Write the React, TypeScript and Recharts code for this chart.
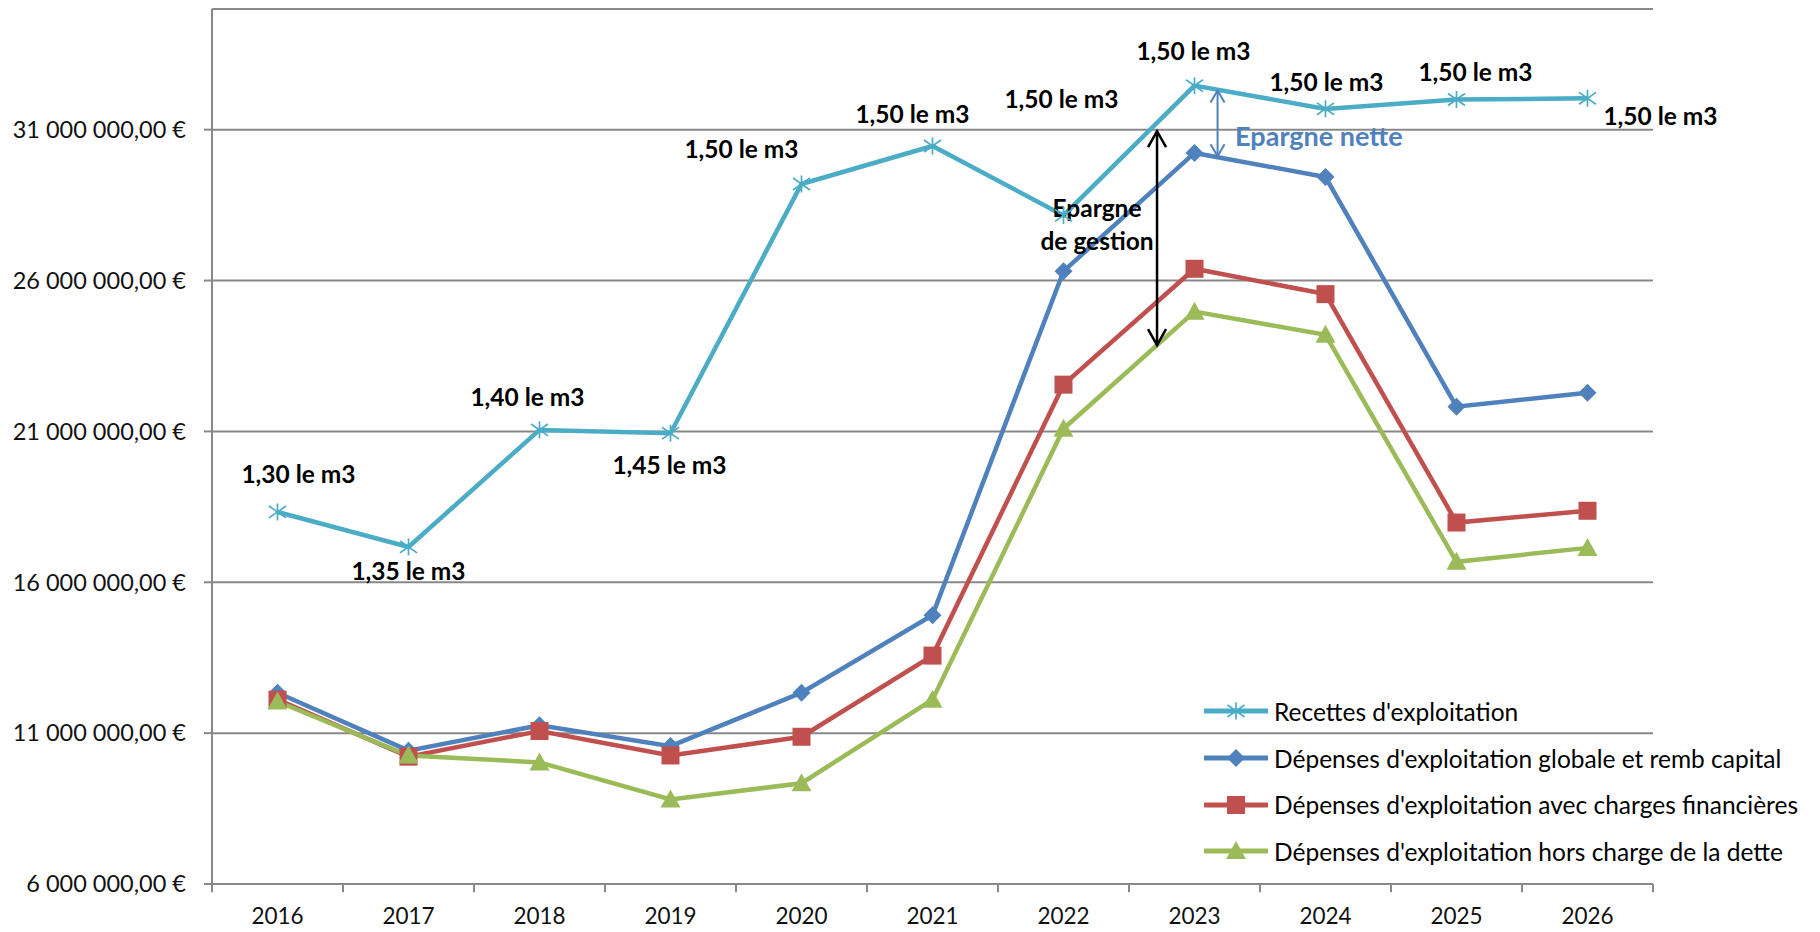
import React from 'react';
import {
  LineChart,
  Line,
  XAxis,
  YAxis,
  CartesianGrid,
  Legend,
  ReferenceLine,
  ReferenceDot,
  LabelList,
} from 'recharts';

const years = ['2016', '2017', '2018', '2019', '2020', '2021', '2022', '2023', '2024', '2025', '2026'];
const recettes = [18.33e6, 17.17e6, 21.05e6, 20.94e6, 29.2e6, 30.46e6, 28.16e6, 32.46e6, 31.69e6, 32.0e6, 32.04e6];
const depGlobale = [12.34e6, 10.42e6, 11.26e6, 10.57e6, 12.34e6, 14.91e6, 26.31e6, 30.23e6, 29.43e6, 21.82e6, 22.28e6];
const depCharges = [12.11e6, 10.22e6, 11.07e6, 10.26e6, 10.88e6, 13.57e6, 22.55e6, 26.39e6, 25.55e6, 17.98e6, 18.37e6];
const depHorsDette = [12.05e6, 10.26e6, 10.03e6, 8.8e6, 9.34e6, 12.11e6, 21.09e6, 24.97e6, 24.2e6, 16.68e6, 17.14e6];
const priceLabels = [
  '1,30 le m3', '1,35 le m3', '1,40 le m3', '1,45 le m3', '1,50 le m3', '1,50 le m3',
  '1,50 le m3', '1,50 le m3', '1,50 le m3', '1,50 le m3', '1,50 le m3',
];
const yTicks = [6e6, 11e6, 16e6, 21e6, 26e6, 31e6];
const seriesNames = [
  "Recettes d'exploitation",
  "Dépenses d'exploitation globale et remb capital",
  "Dépenses d'exploitation avec charges financières",
  "Dépenses d'exploitation hors charge de la dette",
];

// label placement (pixel offsets from each point), style only
const labelOffsets: [number, number][] = [
  [21, -38], [0, 24], [-12, -33], [-1, 31], [-60, -36], [-20, -32],
  [-2, -117], [-1, -35], [1, -27], [19, -28], [73, 17],
];

const FONT = 'Lato, "Open Sans", sans-serif';
const C_CYAN = '#4BACC6';
const C_BLUE = '#4F81BD';
const C_RED = '#C0504D';
const C_GREEN = '#9BBB59';
const GRID = '#898989';

const data = years.map((y, i) => ({
  x: i,
  year: y,
  recettes: recettes[i],
  globale: depGlobale[i],
  charges: depCharges[i],
  hors: depHorsDette[i],
  price: priceLabels[i],
}));

const boundaries = years.map((_, i) => i - 0.5).concat([years.length - 0.5]);

const Star = ({ cx, cy, s = 8.5, color = C_CYAN, sw = 1.7 }: any) => (
  <g>
    <line x1={cx} y1={cy - s} x2={cx} y2={cy + s} stroke={color} strokeWidth={sw} />
    <line x1={cx - s} y1={cy - s * 0.7} x2={cx + s} y2={cy + s * 0.7} stroke={color} strokeWidth={sw} />
    <line x1={cx - s} y1={cy + s * 0.7} x2={cx + s} y2={cy - s * 0.7} stroke={color} strokeWidth={sw} />
  </g>
);
const Diamond = ({ cx, cy, s = 9, color = C_BLUE }: any) => (
  <polygon points={`${cx},${cy - s} ${cx + s},${cy} ${cx},${cy + s} ${cx - s},${cy}`} fill={color} />
);
const Square = ({ cx, cy, s = 9, color = C_RED }: any) => (
  <rect x={cx - s} y={cy - s} width={2 * s} height={2 * s} fill={color} />
);
const Triangle = ({ cx, cy, s = 10, color = C_GREEN }: any) => (
  <polygon points={`${cx},${cy - s} ${cx + s},${cy + s * 0.8} ${cx - s},${cy + s * 0.8}`} fill={color} />
);

const markers = [Star, Diamond, Square, Triangle];
const colors = [C_CYAN, C_BLUE, C_RED, C_GREEN];

const dotFn = (M: any) => (props: any) => {
  if (props.cx == null || props.cy == null) return <g key={props.index} />;
  return (
    <g key={`d-${props.index}`}>
      <M cx={props.cx} cy={props.cy} />
    </g>
  );
};

const PriceLabel = (props: any) => {
  const { x, y, index, value } = props;
  const off = labelOffsets[index] || [0, -30];
  return (
    <text
      x={x + off[0]}
      y={y + off[1]}
      textAnchor="middle"
      dominantBaseline="central"
      fontFamily={FONT}
      fontWeight="bold"
      fontSize={24.5}
      fill="#000"
    >
      {value}
    </text>
  );
};

const makeArrow = (color: string, sw: number, hw: number, hl: number) => (props: any) => {
  const { x1, y1, x2, y2 } = props;
  const top = Math.min(y1, y2);
  const bot = Math.max(y1, y2);
  const x = x1;
  return (
    <g>
      <line x1={x} y1={top} x2={x2} y2={bot} stroke={color} strokeWidth={sw} />
      <polyline points={`${x - hw},${top + hl} ${x},${top} ${x + hw},${top + hl}`} fill="none" stroke={color} strokeWidth={sw} />
      <polyline points={`${x - hw},${bot - hl} ${x},${bot} ${x + hw},${bot - hl}`} fill="none" stroke={color} strokeWidth={sw} />
    </g>
  );
};

const textShape = (txt: string, color: string, anchor: string, size: number) => (props: any) => (
  <text
    x={props.cx}
    y={props.cy}
    textAnchor={anchor}
    dominantBaseline="central"
    fontFamily={FONT}
    fontWeight="bold"
    fontSize={size}
    fill={color}
  >
    {txt}
  </text>
);

const LegendContent = () => (
  <div style={{ fontFamily: FONT, fontSize: 24.5, color: '#000' }}>
    {seriesNames.map((name, i) => {
      const M = markers[i];
      return (
        <div key={name} style={{ display: 'flex', alignItems: 'center', height: 46.7, whiteSpace: 'nowrap' }}>
          <svg width={64} height={22} style={{ display: 'block' }}>
            <line x1={1} y1={11} x2={63} y2={11} stroke={colors[i]} strokeWidth={5} strokeLinecap="round" />
            <M cx={32} cy={11} />
          </svg>
          <span style={{ marginLeft: 6 }}>{name}</span>
        </div>
      );
    })}
  </div>
);

const fmtY = (v: number) => `${Math.round(v / 1e6)} 000 000,00 €`;

export default function App() {
  return (
    <div style={{ width: 1804, height: 916, background: '#fff', overflow: 'visible' }}>
      <LineChart width={1804} height={924} data={data} margin={{ top: 1, right: 159, bottom: 8, left: 0 }}>
        <CartesianGrid horizontal vertical={false} stroke={GRID} strokeWidth={2} />
        <XAxis
          type="number"
          dataKey="x"
          domain={[-0.5, 10.5]}
          ticks={[0, 1, 2, 3, 4, 5, 6, 7, 8, 9, 10]}
          interval={0}
          tickFormatter={(i: number) => years[i] ?? ''}
          tickLine={false}
          tickSize={0}
          tickMargin={24}
          height={40}
          axisLine={{ stroke: GRID, strokeWidth: 2 }}
          tick={{ fontSize: 22.5, fill: '#111', fontFamily: FONT }}
        />
        <YAxis
          type="number"
          domain={[6e6, 35e6]}
          ticks={yTicks}
          interval={0}
          width={204}
          tickSize={8}
          tickMargin={18}
          tickFormatter={fmtY}
          axisLine={{ stroke: GRID, strokeWidth: 2 }}
          tickLine={{ stroke: GRID, strokeWidth: 2 }}
          tick={{ fontSize: 23.5, fill: '#111', fontFamily: FONT }}
          allowDataOverflow
        />
        {boundaries.map((b) => (
          <ReferenceLine
            key={`b${b}`}
            segment={[{ x: b, y: 6e6 }, { x: b, y: 5.73e6 }]}
            stroke={GRID}
            strokeWidth={2}
            ifOverflow="visible"
          />
        ))}
        <Line type="linear" dataKey="recettes" name={seriesNames[0]} stroke={C_CYAN} strokeWidth={4.5} dot={dotFn(Star)} activeDot={false} isAnimationActive={false}>
          <LabelList dataKey="price" content={PriceLabel} />
        </Line>
        <Line type="linear" dataKey="globale" name={seriesNames[1]} stroke={C_BLUE} strokeWidth={4.5} dot={dotFn(Diamond)} activeDot={false} isAnimationActive={false} />
        <Line type="linear" dataKey="charges" name={seriesNames[2]} stroke={C_RED} strokeWidth={4.5} dot={dotFn(Square)} activeDot={false} isAnimationActive={false} />
        <Line type="linear" dataKey="hors" name={seriesNames[3]} stroke={C_GREEN} strokeWidth={4.5} dot={dotFn(Triangle)} activeDot={false} isAnimationActive={false} />
        <ReferenceLine
          segment={[{ x: 6.714, y: 30.95e6 }, { x: 6.714, y: 23.86e6 }]}
          stroke="#000"
          shape={makeArrow('#000', 2.5, 9, 16)}
        />
        <ReferenceLine
          segment={[{ x: 7.176, y: 32.3e6 }, { x: 7.176, y: 30.12e6 }]}
          stroke={C_BLUE}
          shape={makeArrow(C_BLUE, 2, 7, 12)}
        />
        <ReferenceDot x={7.31} y={30.8e6} r={0} shape={textShape('Epargne nette', C_BLUE, 'start', 27)} />
        <ReferenceDot x={6.256} y={28.42e6} r={0} shape={textShape('Epargne', '#000', 'middle', 24.5)} />
        <ReferenceDot x={6.256} y={27.32e6} r={0} shape={textShape('de gestion', '#000', 'middle', 24.5)} />
        <Legend
          layout="vertical"
          align="center"
          verticalAlign="middle"
          content={LegendContent}
          wrapperStyle={{ left: 1196, top: 680, width: 600 }}
        />
      </LineChart>
    </div>
  );
}
